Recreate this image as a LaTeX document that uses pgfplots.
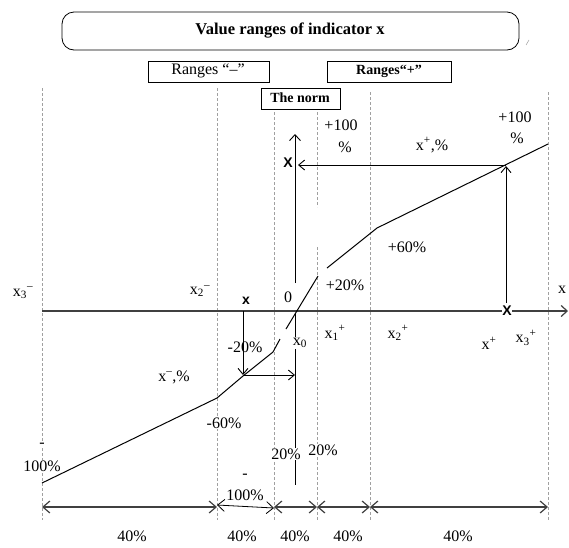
\documentclass[border=0pt]{standalone}
\usepackage{pgfplots}
\pgfplotsset{compat=1.18}
\usepackage{fontspec}
\setmainfont{Liberation Serif}
\newfontfamily\arial{Liberation Sans}
\usetikzlibrary{arrows.meta}
\definecolor{axgray}{HTML}{404040}
\definecolor{dashgray}{HTML}{A0A0A0}
\tikzset{
  lbl/.style={font=\fontsize{16}{18}\selectfont, inner sep=0.5pt},
  wlbl/.style={lbl, fill=white},
  sx/.style={font=\arial\bfseries\fontsize{14}{15}\selectfont, inner sep=0.5pt},
}
\begin{document}
\begin{tikzpicture}
\begin{axis}[
  scale only axis, width=569pt, height=547pt,
  xmin=0, xmax=569, ymin=0, ymax=547, y dir=reverse,
  hide axis, clip=false,
]
\path (rel axis cs:0,0) rectangle (rel axis cs:1,1);
% dashed guide lines
\addplot[dashgray, line width=0.5pt, dash pattern=on 3pt off 2pt] coordinates {(42,88) (42,520)};
\addplot[dashgray, line width=0.5pt, dash pattern=on 3pt off 2pt] coordinates {(217,88) (217,520)};
\addplot[dashgray, line width=0.5pt, dash pattern=on 3pt off 2pt] coordinates {(274,112) (274,520)};
\addplot[dashgray, line width=0.5pt, dash pattern=on 3pt off 2pt] coordinates {(317,112) (317,207)};
\addplot[dashgray, line width=0.5pt, dash pattern=on 3pt off 2pt] coordinates {(317,247) (317,520)};
\addplot[dashgray, line width=0.5pt, dash pattern=on 3pt off 2pt] coordinates {(370,92) (370,520)};
\addplot[dashgray, line width=0.5pt, dash pattern=on 3pt off 2pt] coordinates {(548,92) (548,520)};
\addplot[dashgray, line width=0.5pt] coordinates {(526,45) (529,40)};
% axes
\addplot[axgray, line width=1.2pt, -{Straight Barb[length=6pt,width=11pt]}] coordinates {(42,311) (568,311)};
\addplot[black, line width=0.9pt, -{Straight Barb[length=6pt,width=11pt]}] coordinates {(295,283) (295,134)};
\addplot[black, line width=0.9pt] coordinates {(295,313) (295,485)};
% curve
\addplot[black, line width=1pt] coordinates {(42,483) (217,398) (243,376) (273,352) (280,339)};
\addplot[black, line width=1pt] coordinates {(286,329) (318,276)};
\addplot[black, line width=1pt] coordinates {(327,268) (377,228) (548,144)};
% projection arrows
\addplot[black, line width=0.9pt, -{Straight Barb[length=6pt,width=10pt]}] coordinates {(506,303) (506,166)};
\addplot[black, line width=0.9pt, -{Straight Barb[length=6pt,width=10pt]}] coordinates {(506,165) (298,165)};
\addplot[black, line width=0.9pt, -{Straight Barb[length=6pt,width=10pt]}] coordinates {(243,311) (243,375)};
\addplot[black, line width=0.9pt, -{Straight Barb[length=6pt,width=10pt]}] coordinates {(243,375) (295,375)};
% dimension line
\addplot[axgray, line width=1.2pt, {Straight Barb[length=7pt,width=12pt]}-{Straight Barb[length=7pt,width=12pt]}] coordinates {(42,507) (217,507)};
\addplot[black, line width=0.8pt, {Straight Barb[length=7pt,width=12pt]}-{Straight Barb[length=7pt,width=12pt]}] coordinates {(217,505) (274,508)};
\addplot[axgray, line width=1.2pt, {Straight Barb[length=7pt,width=12pt]}-{Straight Barb[length=7pt,width=12pt]}] coordinates {(274,507) (317,507)};
\addplot[axgray, line width=1.2pt, {Straight Barb[length=7pt,width=12pt]}-{Straight Barb[length=7pt,width=12pt]}] coordinates {(317,507) (370,507)};
\addplot[axgray, line width=1.2pt, {Straight Barb[length=7pt,width=12pt]}-{Straight Barb[length=7pt,width=12pt]}] coordinates {(370,507) (548,507)};
% boxes
\draw[line width=0.8pt, rounded corners=12pt] (axis cs:62,12) rectangle (axis cs:519,50);
\node[font=\bfseries\fontsize{16.5}{18}\selectfont] at (axis cs:290,31) {Value ranges of indicator x};
\draw[line width=0.7pt, fill=white] (axis cs:148,61) rectangle (axis cs:269,82);
\node[lbl] at (axis cs:208,71) {Ranges “–”};
\draw[line width=0.7pt, fill=white] (axis cs:327,61) rectangle (axis cs:451,82);
\node[font=\bfseries\fontsize{14}{16}\selectfont] at (axis cs:389,71) {Ranges“+”};
\draw[line width=0.7pt, fill=white] (axis cs:261,88) rectangle (axis cs:340,109);
\node[font=\bfseries\fontsize{14}{16}\selectfont] at (axis cs:300,98) {The norm};
% labels
\node[lbl] at (axis cs:341,125) {+100};
\node[lbl] at (axis cs:345,147) {\%};
\node[lbl] at (axis cs:515,117) {+100};
\node[lbl] at (axis cs:517,138) {\%};
\node[lbl] at (axis cs:432,145) {x\textsuperscript{+},\%};
\node[sx] at (axis cs:288,163) {X};
\node[lbl] at (axis cs:407,247) {+60\%};
\node[lbl] at (axis cs:345,285) {+20\%};
\node[lbl] at (axis cs:562,290) {x};
\node[sx, fill=white] at (axis cs:507,311) {X};
\node[lbl] at (axis cs:335,333) {x\textsubscript{1}\textsuperscript{+}};
\node[lbl] at (axis cs:398,333) {x\textsubscript{2}\textsuperscript{+}};
\node[lbl] at (axis cs:489,343) {x\textsuperscript{+}};
\node[lbl] at (axis cs:526,338) {x\textsubscript{3}\textsuperscript{+}};
\node[wlbl] at (axis cs:300,343) {x\textsubscript{0}};
\node[lbl] at (axis cs:23,293) {x\textsubscript{3}\textsuperscript{–}};
\node[wlbl] at (axis cs:200,291) {x\textsubscript{2}\textsuperscript{–}};
\node[sx] at (axis cs:246,301) {x};
\node[lbl] at (axis cs:288,297) {0};
\node[lbl] at (axis cs:245,347) {-20\%};
\node[lbl] at (axis cs:174,377) {x\textsuperscript{–},\%};
\node[wlbl] at (axis cs:224,423) {-60\%};
\node[wlbl] at (axis cs:42,445) {-};
\node[wlbl] at (axis cs:42,466) {100\%};
\node[wlbl] at (axis cs:286,454) {20\%};
\node[wlbl] at (axis cs:323,450) {20\%};
\node[lbl] at (axis cs:245,476) {-};
\node[lbl] at (axis cs:245,495) {100\%};
\node[lbl] at (axis cs:132,536) {40\%};
\node[lbl] at (axis cs:242,536) {40\%};
\node[lbl] at (axis cs:295,536) {40\%};
\node[lbl] at (axis cs:348,536) {40\%};
\node[lbl] at (axis cs:458,536) {40\%};
\end{axis}
\end{tikzpicture}
\end{document}
